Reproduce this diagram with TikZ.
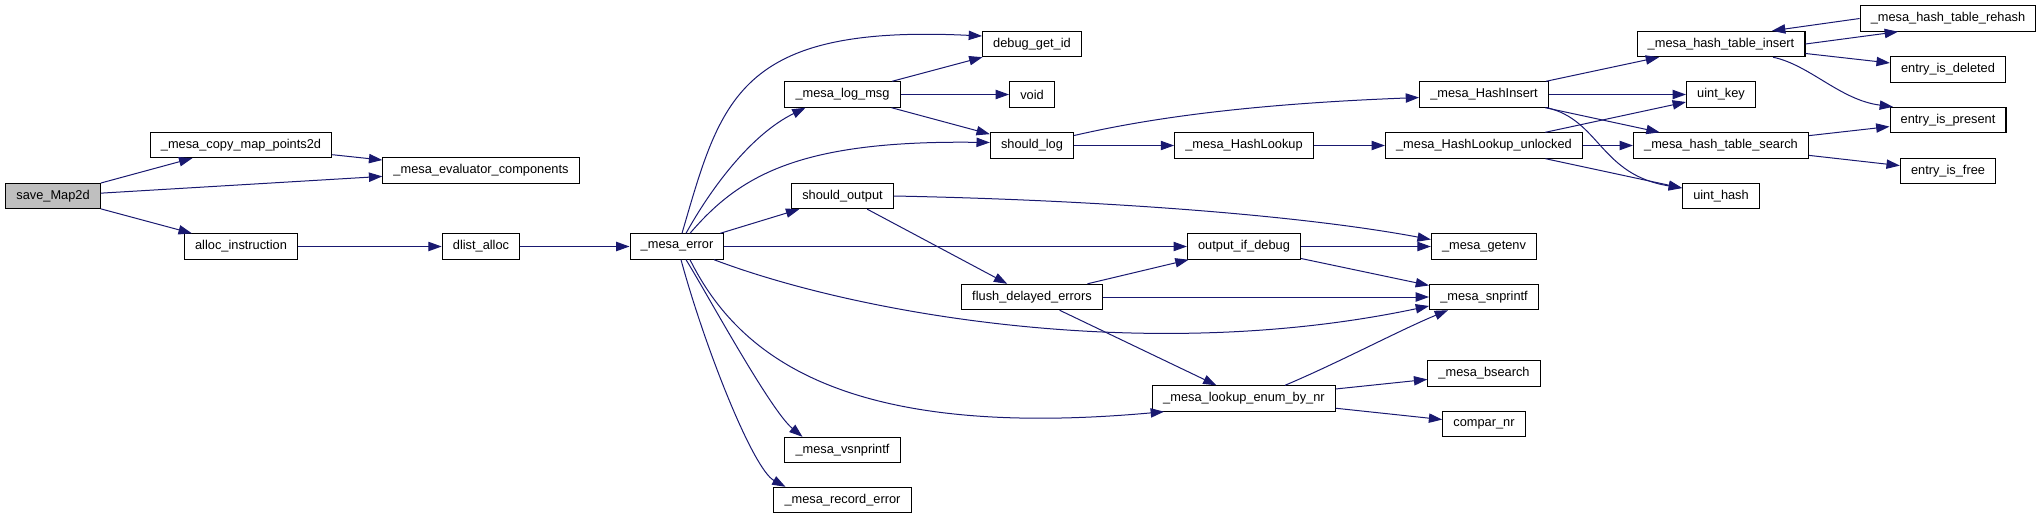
\documentclass[tikz,border=0pt]{standalone}
\usepackage{fontspec}
\setmainfont{Liberation Sans}
\usepackage{xcolor}
\usepackage{tikz}
\usetikzlibrary{arrows.meta,calc}
\definecolor{edgeblue}{HTML}{191970}
\definecolor{rootgray}{HTML}{BFBFBF}

\begin{document}
\begin{tikzpicture}[x=0.75pt, y=-0.75pt,
    func/.style={rectangle, draw=black, fill=white, line width=0.8pt, minimum height=19pt, inner xsep=8pt, inner ysep=0pt, font=\fontsize{9.6}{11}\selectfont},
    callarrow/.style={draw=edgeblue, line width=0.75pt, -{Triangle[length=10pt,width=7pt]}}]
    \useasboundingbox (0,0) rectangle (2043,519);

    % Callers
    \node[func, fill=rootgray] (savemap) at (53,196) {save\_Map2d};
    \node[func] (copymap) at (241,145) {\_mesa\_copy\_map\_points2d};
    \node[func] (evalcomp) at (481,170.5) {\_mesa\_evaluator\_components};
    \node[func] (allocinstr) at (241,246.5) {alloc\_instruction};
    \node[func] (dlistalloc) at (481,246.5) {dlist\_alloc};
    \node[func] (mesaerror) at (677,246.5) {\_mesa\_error};

    % Error path
    \node[func] (debugid) at (1032,44) {debug\_get\_id};
    \node[func] (logmsg) at (842.5,94.5) {\_mesa\_log\_msg};
    \node[func] (void) at (1032,94.5) {void};
    \node[func] (shouldlog) at (1032,145.5) {should\_log};
    \node[func] (shouldout) at (842.5,196) {should\_output};
    \node[func] (flush) at (1032,297) {flush\_delayed\_errors};
    \node[func] (vsnprintf) at (842.5,450) {\_mesa\_vsnprintf};
    \node[func] (recorderr) at (842.5,500) {\_mesa\_record\_error};

    \node[func] (hashinsert) at (1484,94.5) {\_mesa\_HashInsert};
    \node[func] (hashlookup) at (1244,145.5) {\_mesa\_HashLookup};
    \node[func] (lookupunl) at (1484,145.5) {\_mesa\_HashLookup\_unlocked};
    \node[func] (outdebug) at (1244,246.5) {output\_if\_debug};
    \node[func] (getenv) at (1484,246.5) {\_mesa\_getenv};
    \node[func] (snprintf) at (1484,297) {\_mesa\_snprintf};
    \node[func] (bsearch) at (1484,373.5) {\_mesa\_bsearch};
    \node[func] (lookupenum) at (1244,398.5) {\_mesa\_lookup\_enum\_by\_nr};
    \node[func] (comparnr) at (1484,424) {compar\_nr};

    % Hash table
    \node[func] (rehash) at (1948,18.5) {\_mesa\_hash\_table\_rehash};
    \node[func] (htinsert) at (1721,44) {\_mesa\_hash\_table\_insert};
    \node[func] (isdeleted) at (1948,69.5) {entry\_is\_deleted};
    \node[func] (uintkey) at (1721,94.5) {uint\_key};
    \node[func] (ispresent) at (1948,120) {entry\_is\_present};
    \node[func] (htsearch) at (1721,145.5) {\_mesa\_hash\_table\_search};
    \node[func] (isfree) at (1948,171) {entry\_is\_free};
    \node[func] (uinthash) at (1721,196) {uint\_hash};

    % Calls
    \draw[callarrow] (savemap) -- (copymap);
    \draw[callarrow] (savemap) -- (evalcomp);
    \draw[callarrow] (savemap) -- (allocinstr);
    \draw[callarrow] (copymap) -- (evalcomp);
    \draw[callarrow] (allocinstr) -- (dlistalloc);
    \draw[callarrow] (dlistalloc) -- (mesaerror);

    \draw[callarrow] ($(mesaerror.north)+(5,0)$) .. controls (721,100) and (737,24) .. ($(debugid.west)+(0,-8)$);
    \draw[callarrow] ($(mesaerror.north)+(9,0)$) .. controls (710,190) and (750,135) .. ($(logmsg.south)+(-37,0)$);
    \draw[callarrow] ($(mesaerror.north)+(13,0)$) .. controls (740,175) and (800,140) .. ($(shouldlog.west)+(0,-3)$);
    \draw[callarrow] (mesaerror) -- (shouldout);
    \draw[callarrow] (mesaerror) -- (outdebug);
    \draw[callarrow] ($(mesaerror.south)+(37,0)$) .. controls (860,315) and (1150,365) .. ($(snprintf.west)+(0,9)$);
    \draw[callarrow] ($(mesaerror.south)+(13,0)$) .. controls (740,360) and (850,440) .. ($(lookupenum.south)+(-80,0)$);
    \draw[callarrow] ($(mesaerror.south)+(9,0)$) .. controls (705,290) and (770,410) .. ($(vsnprintf.north)+(-40,0)$);
    \draw[callarrow] ($(mesaerror.south)+(4,0)$) .. controls (705,348) and (753,469) .. ($(recorderr.north)+(-57,0)$);

    \draw[callarrow] (logmsg) -- (debugid);
    \draw[callarrow] (logmsg) -- (void);
    \draw[callarrow] (logmsg) -- (shouldlog);
    \draw[callarrow] ($(shouldlog.east)+(0,-10)$) .. controls (1150,118) and (1250,104) .. ($(hashinsert.west)+(0,3)$);
    \draw[callarrow] (shouldlog) -- (hashlookup);
    \draw[callarrow] (hashlookup) -- (lookupunl);

    \draw[callarrow] (hashinsert) -- (htinsert);
    \draw[callarrow] (hashinsert) -- (uintkey);
    \draw[callarrow] (hashinsert) -- (htsearch);
    \draw[callarrow] ($(hashinsert.south east)+(-2,0)$) .. controls (1600,120) and (1600,175) .. ($(uinthash.west)+(0,-8)$);
    \draw[callarrow] (lookupunl) -- (uintkey);
    \draw[callarrow] (lookupunl) -- (htsearch);
    \draw[callarrow] (lookupunl) -- ($(uinthash.west)+(0,-8)$);

    \draw[callarrow] (htinsert.east) -- ($(rehash.south)+(-50,0)$);
    \draw[callarrow] (rehash.west) -- ($(htinsert.north)+(51,0)$);
    \draw[callarrow] (htinsert) -- (isdeleted);
    \draw[callarrow] ($(htinsert.south)+(52,0)$) .. controls (1810,65) and (1840,100) .. ($(ispresent.north)+(-55,0)$);
    \draw[callarrow] (htsearch) -- (ispresent);
    \draw[callarrow] (htsearch) -- (isfree);

    \draw[callarrow] (shouldout.east) .. controls (1100,200) and (1300,215) .. ($(getenv.west)+(0,-7)$);
    \draw[callarrow] (shouldout) -- (flush);
    \draw[callarrow] (outdebug) -- (getenv);
    \draw[callarrow] (outdebug) -- (snprintf);
    \draw[callarrow] (flush) -- (outdebug);
    \draw[callarrow] (flush) -- (snprintf);
    \draw[callarrow] (flush) -- (lookupenum);
    \draw[callarrow] ($(lookupenum.north)+(41,0)$) .. controls (1340,362) and (1400,330) .. ($(snprintf.south)+(-36,0)$);
    \draw[callarrow] (lookupenum) -- (bsearch);
    \draw[callarrow] (lookupenum) -- (comparnr);
\end{tikzpicture}
\end{document}
